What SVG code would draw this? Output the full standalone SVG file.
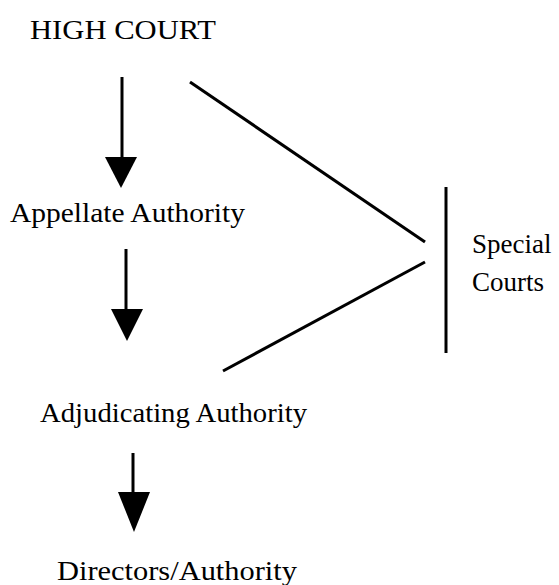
<svg xmlns="http://www.w3.org/2000/svg" width="559" height="585" viewBox="0 0 559 585">
<style>
text { font-family: "Liberation Serif", "Times New Roman", serif; font-size: 27px; fill: #000; }
.ln { stroke: #000; stroke-width: 3; fill: none; }
.hd { fill: #000; }
</style>
<rect width="559" height="585" fill="#fff"/>
<g id="high-court"><text x="30" y="39" textLength="186" lengthAdjust="spacingAndGlyphs">HIGH COURT</text></g>
<g id="appellate-authority"><text x="10" y="222" textLength="235" lengthAdjust="spacingAndGlyphs">Appellate Authority</text></g>
<g id="adjudicating-authority"><text x="40" y="422" textLength="267" lengthAdjust="spacingAndGlyphs">Adjudicating Authority</text></g>
<g id="directors-authority"><text x="57" y="580" textLength="240" lengthAdjust="spacingAndGlyphs">Directors/Authority</text></g>
<g id="special-courts"><text x="472" y="253">Special</text><text x="472" y="291">Courts</text></g>
<g id="connectors">
<line class="ln" x1="122" y1="77" x2="122" y2="160"/>
<polygon class="hd" points="105,157 137,157 121,188"/>
<line class="ln" x1="126" y1="249" x2="126" y2="312"/>
<polygon class="hd" points="111,309 143,309 127,341"/>
<line class="ln" x1="133" y1="453" x2="133" y2="495"/>
<polygon class="hd" points="118,492 150,492 134,532"/>
<line class="ln" x1="190" y1="82" x2="425" y2="242"/>
<line class="ln" x1="223" y1="371" x2="425" y2="262"/>
<line class="ln" x1="446" y1="187" x2="446" y2="353"/>
</g>
</svg>
